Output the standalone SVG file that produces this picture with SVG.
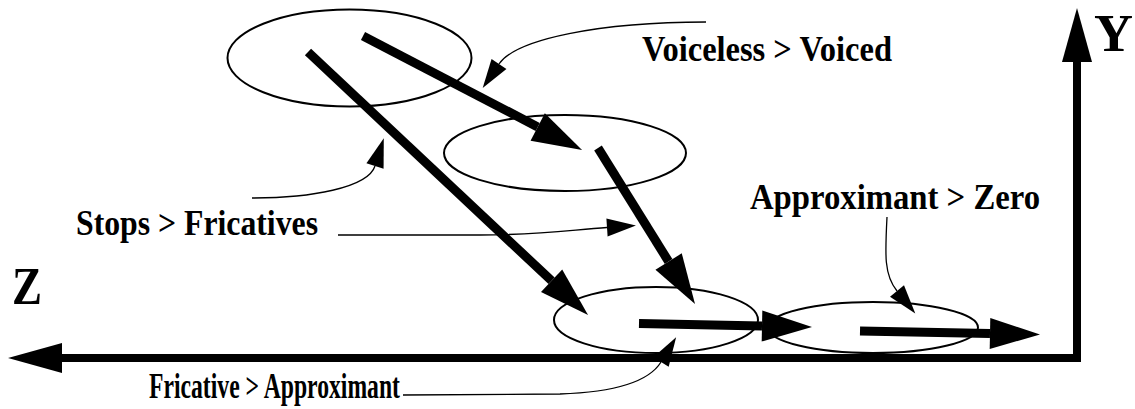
<svg xmlns="http://www.w3.org/2000/svg" width="1135" height="409" viewBox="0 0 1135 409">
<style>
.bg{fill:#fff}
.ell{fill:none;stroke:#000;stroke-width:2}
.axis{fill:none;stroke:#000;stroke-width:8;stroke-linejoin:miter;stroke-linecap:butt}
.thick{fill:none;stroke:#000;stroke-width:9;stroke-linecap:butt}
.thin{fill:none;stroke:#000;stroke-width:1.3}
.lbl{font-family:"Liberation Serif","Times New Roman",serif;font-weight:bold;font-size:35px;fill:#000}
.ax{font-family:"Liberation Serif","Times New Roman",serif;font-weight:bold;font-size:52px;fill:#000}
</style>
<defs>
<marker id="hAxis" markerUnits="userSpaceOnUse" orient="auto-start-reverse" refX="0" refY="0" markerWidth="60" markerHeight="34" viewBox="0 -17 60 34" overflow="visible"><path d="M0,-15 L54,0 L0,15 z" fill="#000"/></marker>
<marker id="hThick" markerUnits="userSpaceOnUse" orient="auto" refX="0" refY="0" markerWidth="56" markerHeight="34" viewBox="0 -17 56 34" overflow="visible"><path d="M0,-15.5 L50,0 L0,15.5 z" fill="#000"/></marker>
<marker id="hThin" markerUnits="userSpaceOnUse" orient="auto" refX="0" refY="0" markerWidth="32" markerHeight="22" viewBox="0 -11 32 22" overflow="visible"><path d="M0,-9 L29,0 L0,9 z" fill="#000"/></marker>
</defs>
<rect class="bg" width="1135" height="409"/>
<g id="node-stops-voiceless"><ellipse class="ell" cx="349.5" cy="58" rx="122" ry="48.5"/></g>
<g id="node-voiced"><ellipse class="ell" cx="565" cy="153" rx="121" ry="38"/></g>
<g id="node-fricative"><ellipse class="ell" cx="656" cy="320" rx="102" ry="33"/></g>
<g id="node-approximant"><ellipse class="ell" cx="873" cy="327.5" rx="105" ry="25.5"/></g>
<g id="axes">
<path class="axis" d="M62,358 H1077 V62" marker-start="url(#hAxis)" marker-end="url(#hAxis)"/>
<text class="ax" x="12" y="304" textLength="30" lengthAdjust="spacingAndGlyphs">Z</text>
<text class="ax" x="1094" y="51" textLength="39" lengthAdjust="spacingAndGlyphs">Y</text>
</g>
<g id="connectors">
<line class="thick" x1="308" y1="52" x2="551.6" y2="280.8" marker-end="url(#hThick)"/>
<line class="thick" x1="363" y1="36" x2="537.7" y2="126.9" marker-end="url(#hThick)"/>
<line class="thick" x1="598" y1="148" x2="668.6" y2="261.5" marker-end="url(#hThick)"/>
<line class="thick" x1="639" y1="323.5" x2="762" y2="326" marker-end="url(#hThick)"/>
<line class="thick" x1="860" y1="331" x2="990" y2="333.5" marker-end="url(#hThick)"/>
<path class="thin" d="M706,22 C600,22 516,39 499,64" marker-end="url(#hThin)"/>
<path class="thin" d="M252,198 C310,198 368,188 375,166" marker-end="url(#hThin)"/>
<path class="thin" d="M338,235 L480,235 C540,235 570,230 607,227.5" marker-end="url(#hThin)"/>
<path class="thin" d="M403,395 L560,394 C620,392 650,380 661,362" marker-end="url(#hThin)"/>
<path class="thin" d="M887,217 C885,255 884,275 897,291" marker-end="url(#hThin)"/>
</g>
<g id="labels">
<text class="lbl" x="642" y="61" textLength="250" lengthAdjust="spacingAndGlyphs">Voiceless &gt; Voiced</text>
<text class="lbl" x="76" y="235" textLength="242" lengthAdjust="spacingAndGlyphs">Stops &gt; Fricatives</text>
<text class="lbl" x="149" y="398" textLength="251" lengthAdjust="spacingAndGlyphs">Fricative &gt; Approximant</text>
<text class="lbl" x="750" y="209" textLength="290" lengthAdjust="spacingAndGlyphs">Approximant &gt; Zero</text>
</g>
</svg>
